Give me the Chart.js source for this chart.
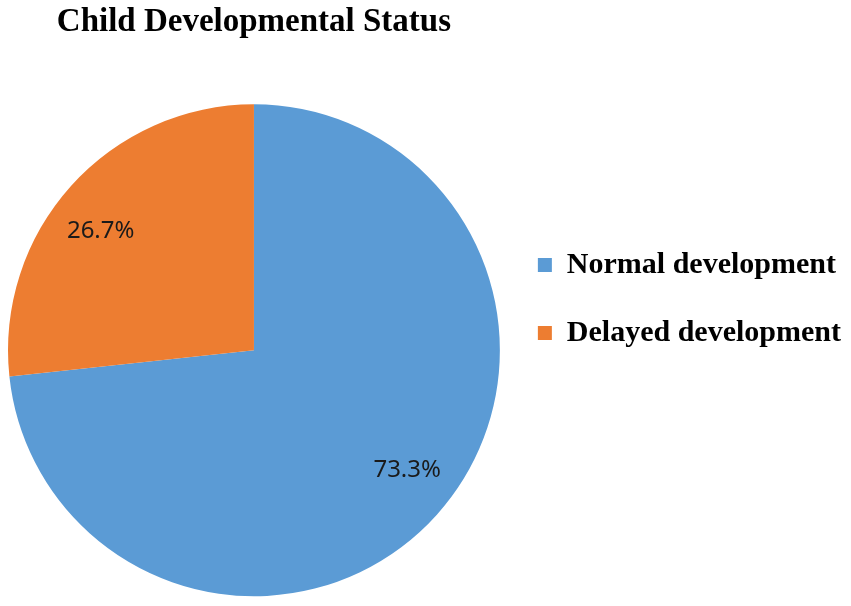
<!DOCTYPE html>
<html lang="en">

<head>
    <meta charset="UTF-8">
    <title>Child Developmental Status</title>
    <script src="https://cdn.jsdelivr.net/npm/chart.js"></script>
    <style>
        body { margin: 0; background: #fff; }
        #box { width: 851px; height: 606px; }
    </style>
</head>

<body>
    <div id="box">
        <canvas id="graficoPizza"></canvas>
    </div>

<script>
    // dados
    const categorias = ['Normal development', 'Delayed development'];
    const percentuais = [73.3, 26.7];
    const cores = ['#5B9BD5', '#ED7D31'];

    // escreve o percentual dentro de cada fatia
    const rotulos = {
        id: 'rotulos',
        afterDatasetsDraw(chart) {
            const ctx = chart.ctx;
            const meta = chart.getDatasetMeta(0);
            ctx.save();
            ctx.font = '24px "Noto Sans"';
            ctx.fillStyle = '#1a1a1a';
            ctx.textAlign = 'center';
            ctx.textBaseline = 'middle';
            meta.data.forEach((arco, i) => {
                const p = arco.getProps(['x', 'y', 'startAngle', 'endAngle', 'outerRadius'], true);
                const meio = (p.startAngle + p.endAngle) / 2 - 0.07;
                const r = p.outerRadius * 0.79;
                ctx.fillText(percentuais[i].toFixed(1) + '%', p.x + Math.cos(meio) * r, p.y + Math.sin(meio) * r);
            });
            ctx.restore();
        }
    };

    const config = {
        type: 'pie',
        data: {
            labels: categorias,
            datasets: [{
                data: percentuais,
                backgroundColor: cores,
                borderWidth: 0
            }]
        },
        options: {
            responsive: true,
            maintainAspectRatio: false,
            animation: false,
            layout: { padding: { left: 8, right: 0, top: 0, bottom: 8 } },
            plugins: {
                title: {
                    display: true,
                    text: 'Child Developmental Status',
                    fullSize: false,
                    color: '#000',
                    font: { family: '"Liberation Serif", "Times New Roman", serif', size: 33, weight: 'bold' },
                    padding: { top: 3, bottom: 60 }
                },
                legend: {
                    position: 'right',
                    labels: {
                        color: '#000',
                        boxWidth: 14,
                        boxHeight: 14,
                        padding: 38,
                        font: { family: '"Liberation Serif", "Times New Roman", serif', size: 30, weight: 'bold' }
                    }
                },
                tooltip: { enabled: false }
            }
        },
        plugins: [rotulos]
    };

    let ctx = document.getElementById('graficoPizza').getContext('2d');
    let graficoPizza = new Chart(ctx, config);
</script>
</body>
</html>
